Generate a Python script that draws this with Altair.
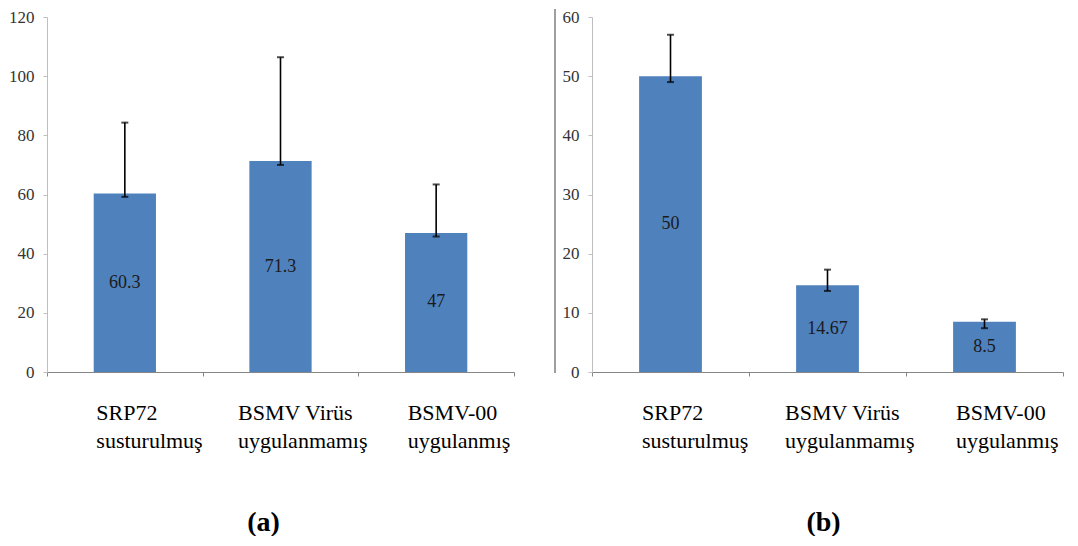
import altair as alt
import pandas as pd

line1 = ["SRP72", "BSMV Virüs", "BSMV-00"]
line2 = ["susturulmuş", "uygulanmamış", "uygulanmış"]
cats = [f"{a}|{b}" for a, b in zip(line1, line2)]

a_values = [60.3, 71.3, 47]
a_err_low = [59.2, 70.0, 45.8]
a_err_high = [84.3, 106.4, 63.4]
a_ticks = [0, 20, 40, 60, 80, 100, 120]

b_values = [50, 14.67, 8.5]
b_err_low = [49.0, 13.7, 7.4]
b_err_high = [57.0, 17.3, 8.9]
b_ticks = [0, 10, 20, 30, 40, 50, 60]

BAR = "#4F81BD"
SERIF = "Liberation Serif"
NARROW = "Liberation Sans Narrow"


def panel(values, lo, hi, ticks, title, title_x, width, height, sep=False):
    df = pd.DataFrame({
        "cat": cats,
        "value": values,
        "lo": lo,
        "hi": hi,
        "label": [f"{v:g}" for v in values],
    })
    xenc = alt.X(
        "cat:N",
        sort=cats,
        scale=alt.Scale(paddingInner=0, paddingOuter=0),
        axis=alt.Axis(
            labelAngle=0,
            labelExpr="split(datum.label, '|')",
            labelFont=SERIF,
            labelFontSize=22,
            labelColor="#000000",
            labelAlign="left",
            labelBaseline="top",
            labelLineHeight=28,
            labelPadding=26,
            labelOffset={"condition": {"test": f"datum.value === '{cats[1]}'", "value": -43}, "value": -29},
            domainColor="#868686",
            tickColor="#868686",
            tickSize=4,
            tickBand="extent",
            title=title,
            titleFont=SERIF,
            titleFontSize=28,
            titleFontWeight="bold",
            titleColor="#000000",
            titleX=title_x,
            titleY=150,
            titleAlign="center",
            titleBaseline="middle",
        ),
    )
    yscale = alt.Scale(domain=[ticks[0], ticks[-1]], nice=False)
    yenc = alt.Y(
        "value:Q",
        scale=yscale,
        axis=alt.Axis(
            values=ticks,
            grid=False,
            title=None,
            domainColor="#BFBFBF",
            tickColor="#BFBFBF",
            tickSize=4,
            labelFont=NARROW,
            labelFontSize=17,
            labelColor="#333333",
            labelPadding=9,
        ),
    )
    base = alt.Chart(df)
    bars = base.mark_bar(color=BAR, width=alt.RelativeBandSize(0.4)).encode(x=xenc, y=yenc)
    err = base.mark_rule(color="#000000", strokeWidth=1.6).encode(
        x=alt.X("cat:N", sort=cats),
        y=alt.Y("lo:Q", scale=yscale),
        y2="hi:Q",
    )
    cap_lo = base.mark_tick(color="#000000", thickness=2, size=7).encode(
        x=alt.X("cat:N", sort=cats), y=alt.Y("lo:Q", scale=yscale)
    )
    cap_hi = base.mark_tick(color="#000000", thickness=2, size=7).encode(
        x=alt.X("cat:N", sort=cats), y=alt.Y("hi:Q", scale=yscale)
    )
    text = base.transform_calculate(mid="datum.value / 2").mark_text(
        font=NARROW, fontSize=18, color="#1a1a1a", baseline="middle"
    ).encode(
        x=alt.X("cat:N", sort=cats),
        y=alt.Y("mid:Q", scale=yscale),
        text="label:N",
    )
    layers = [bars, err, cap_lo, cap_hi, text]
    if sep:
        sepline = alt.Chart(pd.DataFrame({"s": [0]})).mark_rule(color="#7F7F7F", strokeWidth=1.5).encode(
            x=alt.value(-37), y=alt.value(-8), y2=alt.value(height + 1)
        )
        layers.append(sepline)
    return alt.layer(*layers).properties(width=width, height=height)


pa = panel(a_values, a_err_low, a_err_high, a_ticks, "(a)", 216, 467, 355)
pb = panel(b_values, b_err_low, b_err_high, b_ticks, "(b)", 231, 471, 355, sep=True)

chart = alt.hconcat(pa, pb, spacing=39).properties(padding=0).configure_view(stroke=None)

chart.save("out.html", embed_options={"renderer": "svg", "actions": False})
